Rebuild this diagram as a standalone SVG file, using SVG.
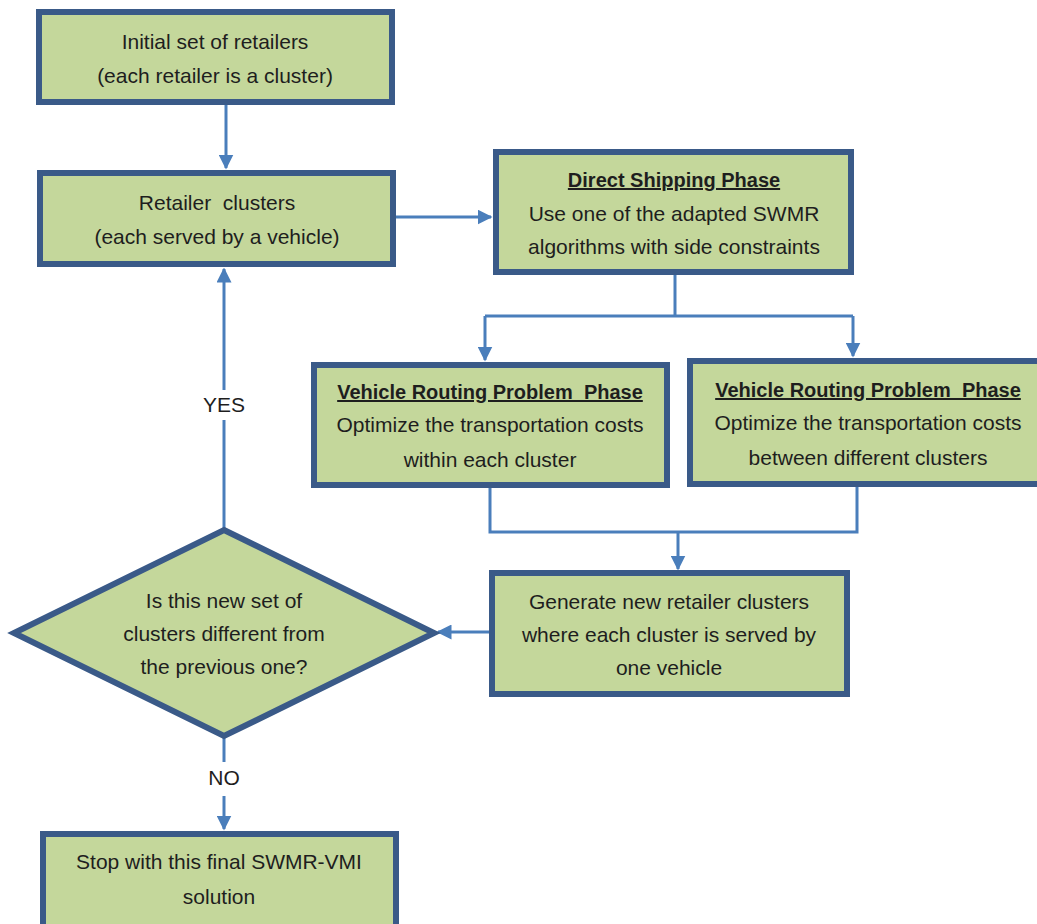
<svg xmlns="http://www.w3.org/2000/svg" width="1037" height="924" viewBox="0 0 1037 924">
<style>
.box{fill:#c4d79b;stroke:#3a5a88;stroke-width:6}
.t{font-family:"Liberation Sans",Arial,sans-serif;font-size:21px;fill:#1e1e1e;text-anchor:middle}
.b{font-weight:bold;text-decoration:underline;font-size:20px}
.c{fill:none;stroke:#4a7ebb;stroke-width:3}
</style>
<defs>
<marker id="ah" viewBox="0 0 10 10" refX="9" refY="5" markerWidth="5" markerHeight="5" orient="auto" markerUnits="strokeWidth">
<path d="M0,0 L10,5 L0,10 z" fill="#4a7ebb"/>
</marker>
</defs>
<rect width="1037" height="924" fill="#ffffff"/>
<g id="connectors">
<path class="c" d="M226,104 L226,168" marker-end="url(#ah)"/>
<path class="c" d="M396,217 L491,217" marker-end="url(#ah)"/>
<path class="c" d="M675,275 L675,316"/>
<path class="c" d="M485,316 L853,316"/>
<path class="c" d="M485,316 L485,360" marker-end="url(#ah)"/>
<path class="c" d="M853,316 L853,356" marker-end="url(#ah)"/>
<path class="c" d="M490,488 L490,532 L857,532 L857,487"/>
<path class="c" d="M678,532 L678,569" marker-end="url(#ah)"/>
<path class="c" d="M490,632 L438,632" marker-end="url(#ah)"/>
<path class="c" d="M224,528 L224,420"/>
<path class="c" d="M224,390 L224,269" marker-end="url(#ah)"/>
<path class="c" d="M224,738 L224,762"/>
<path class="c" d="M224,796 L224,829" marker-end="url(#ah)"/>
<text class="t" x="224" y="412">YES</text>
<text class="t" x="224" y="785">NO</text>
</g>
<g id="n1">
<rect class="box" x="39" y="12" width="353" height="90"/>
<text class="t" x="215" y="49">Initial set of retailers</text>
<text class="t" x="215" y="83">(each retailer is a cluster)</text>
</g>
<g id="n2">
<rect class="box" x="40" y="173" width="353" height="91"/>
<text class="t" x="217" y="210">Retailer&#160; clusters</text>
<text class="t" x="217" y="244">(each served by a vehicle)</text>
</g>
<g id="n3">
<rect class="box" x="496" y="152" width="355" height="120"/>
<text class="t b" x="674" y="187">Direct Shipping Phase</text>
<text class="t" x="674" y="221">Use one of the adapted SWMR</text>
<text class="t" x="674" y="254">algorithms with side constraints</text>
</g>
<g id="n4">
<rect class="box" x="314" y="365" width="353" height="120"/>
<text class="t b" x="490" y="399">Vehicle Routing Problem&#160; Phase</text>
<text class="t" x="490" y="432">Optimize the transportation costs</text>
<text class="t" x="490" y="467">within each cluster</text>
</g>
<g id="n5">
<rect class="box" x="690" y="361" width="352" height="123"/>
<text class="t b" x="868" y="397">Vehicle Routing Problem&#160; Phase</text>
<text class="t" x="868" y="430">Optimize the transportation costs</text>
<text class="t" x="868" y="465">between different clusters</text>
</g>
<g id="n6">
<rect class="box" x="492" y="573" width="355" height="121"/>
<text class="t" x="669" y="609">Generate new retailer clusters</text>
<text class="t" x="669" y="642">where each cluster is served by</text>
<text class="t" x="669" y="675">one vehicle</text>
</g>
<g id="n7">
<polygon class="box" stroke-width="5" points="224,530 434,633 224,736 14,633"/>
<text class="t" x="224" y="608">Is this new set of</text>
<text class="t" x="224" y="641">clusters different from</text>
<text class="t" x="224" y="674">the previous one?</text>
</g>
<g id="n8">
<rect class="box" x="43" y="834" width="353" height="100"/>
<text class="t" x="219" y="869">Stop with this final SWMR-VMI</text>
<text class="t" x="219" y="904">solution</text>
</g>
</svg>
